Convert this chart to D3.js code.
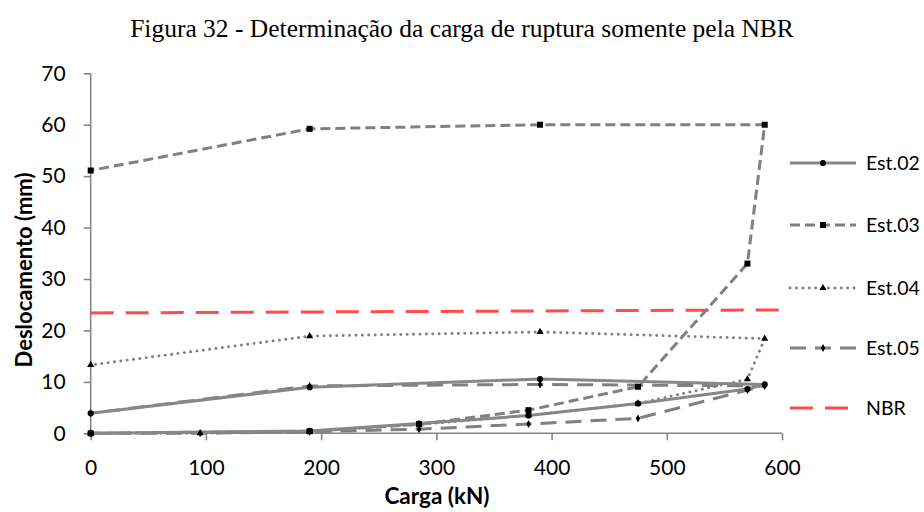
<!DOCTYPE html>
<html>
<head>
<meta charset="utf-8">
<script src="https://cdn.jsdelivr.net/npm/d3@7"></script>
<style>
  html, body { margin: 0; padding: 0; background: #fff; }
  svg { display: block; }
</style>
</head>
<body>
<svg id="chart" width="924" height="512"></svg>
<script>
// Load (kN) and displacement (mm) for each test, loading branch then unloading branch
const est02Load = [0, 190, 285, 380, 475, 570, 585, 390, 190, 0];
const est02Disp = [0, 0.45, 1.9, 3.45, 5.8, 8.6, 9.5, 10.55, 8.95, 3.9];

const est03Load = [0, 190, 285, 380, 475, 570, 585, 390, 190, 0];
const est03Disp = [0, 0.4, 1.75, 4.5, 9.05, 33.0, 60.0, 60.0, 59.2, 51.1];

const est04Load = [0, 95, 190, 285, 380, 475, 570, 585, 390, 190, 0];
const est04Disp = [0, 0, 0.4, 1.7, 3.5, 5.8, 10.5, 18.4, 19.7, 18.9, 13.3];

const est05Load = [0, 95, 190, 285, 380, 475, 570, 585, 390, 190, 0];
const est05Disp = [0, 0, 0.3, 0.8, 1.8, 2.9, 8.4, 9.2, 9.5, 9.2, 3.9];

const nbrLoad = [0, 600];
const nbrDisp = [23.4, 24.0];

const seriesNames = ["Est.02", "Est.03", "Est.04", "Est.05", "NBR"];
const xTicks = [0, 100, 200, 300, 400, 500, 600];
const yTicks = [0, 10, 20, 30, 40, 50, 60, 70];

const series = [
  { name: seriesNames[0], x: est02Load, y: est02Disp, color: "#878787", dash: null, width: 3, marker: "circle" },
  { name: seriesNames[1], x: est03Load, y: est03Disp, color: "#808080", dash: "10,5", width: 3, marker: "square" },
  { name: seriesNames[2], x: est04Load, y: est04Disp, color: "#808080", dash: "0.1,6.3", width: 2.9, cap: "round", marker: "triangle" },
  { name: seriesNames[3], x: est05Load, y: est05Disp, color: "#808080", dash: "16,9", width: 3, marker: "diamond" },
  { name: seriesNames[4], x: nbrLoad, y: nbrDisp, color: "#ff4b4b", dash: "23,12", width: 3, marker: null }
];

const svg = d3.select("#chart");
const plot = { left: 90.7, right: 782, top: 73.3, bottom: 433.3 };

const x = d3.scaleLinear().domain([0, 600]).range([plot.left, plot.right]);
const y = d3.scaleLinear().domain([0, 70]).range([plot.bottom, plot.top]);

// Title
svg.append("text")
  .attr("x", 462).attr("y", 37)
  .attr("text-anchor", "middle")
  .attr("font-family", "'Liberation Serif', 'Times New Roman', serif")
  .attr("font-size", 25.5)
  .attr("fill", "#000")
  .text("Figura 32 - Determinação da carga de ruptura somente pela NBR");

const axisColor = "#868686";
const tickFont = "Lato, 'Open Sans', sans-serif";

// Axes
const xAxis = svg.append("g")
  .attr("transform", `translate(0,${plot.bottom})`)
  .call(d3.axisBottom(x).tickValues(xTicks).tickSize(7).tickPadding(20).tickFormat(d3.format("d")));
const yAxis = svg.append("g")
  .attr("transform", `translate(${plot.left},0)`)
  .call(d3.axisLeft(y).tickValues(yTicks).tickSize(7).tickPadding(18).tickFormat(d3.format("d")));

[xAxis, yAxis].forEach(g => {
  g.select(".domain").attr("stroke", axisColor).attr("stroke-width", 1.6);
  g.selectAll(".tick line").attr("stroke", axisColor).attr("stroke-width", 1.6);
  g.selectAll(".tick text")
    .attr("font-family", tickFont)
    .attr("font-size", 21)
    .attr("fill", "#000");
});
// Plain axis lines without the outer end stubs
xAxis.select(".domain").attr("d", `M${plot.left},0H${plot.right}`);
yAxis.select(".domain").attr("d", `M0,${plot.top}V${plot.bottom}`);

// Axis titles
svg.append("text")
  .attr("x", 437).attr("y", 504)
  .attr("text-anchor", "middle")
  .attr("font-family", tickFont)
  .attr("font-weight", "bold")
  .attr("font-size", 22.5)
  .text("Carga (kN)");

svg.append("text")
  .attr("transform", "translate(32,270) rotate(-90)")
  .attr("text-anchor", "middle")
  .attr("font-family", tickFont)
  .attr("font-weight", "bold")
  .attr("font-size", 22)
  .text("Deslocamento (mm)");

// Marker shapes
const markerPaths = {
  circle: d3.symbol().type(d3.symbolCircle).size(30),
  square: d3.symbol().type(d3.symbolSquare).size(36),
  triangle: d3.symbol().type(d3.symbolTriangle).size(22),
  diamond: d3.symbol().type(d3.symbolDiamond).size(18)
};

const line = d3.line().x(d => x(d[0])).y(d => y(d[1]));

const drawOrder = [4, 3, 2, 1, 0];
drawOrder.forEach(i => {
  const s = series[i];
  const pts = s.x.map((v, k) => [v, s.y[k]]);
  svg.append("path")
    .datum(pts)
    .attr("d", line)
    .attr("fill", "none")
    .attr("stroke", s.color)
    .attr("stroke-width", s.width)
    .attr("stroke-dasharray", s.dash)
    .attr("stroke-linecap", s.cap || "butt")
    .attr("stroke-linejoin", "round");
});
drawOrder.forEach(i => {
  const s = series[i];
  if (!s.marker) return;
  const pts = s.x.map((v, k) => [v, s.y[k]]);
  svg.append("g").selectAll("path")
    .data(pts)
    .join("path")
    .attr("d", markerPaths[s.marker])
    .attr("transform", d => `translate(${x(d[0])},${y(d[1])})`)
    .attr("fill", "#000");
});

// Legend
const legendY = [163, 225, 288, 348, 408];
const legend = svg.append("g");
series.forEach((s, i) => {
  const g = legend.append("g").attr("transform", `translate(0,${legendY[i]})`);
  g.append("line")
    .attr("x1", 790).attr("x2", 856).attr("y1", 0).attr("y2", 0)
    .attr("stroke", s.color)
    .attr("stroke-width", s.width)
    .attr("stroke-dasharray", s.dash)
    .attr("stroke-linecap", s.cap || "butt");
  if (s.marker) {
    g.append("path")
      .attr("d", markerPaths[s.marker])
      .attr("transform", "translate(823,0)")
      .attr("fill", "#000");
  }
  g.append("text")
    .attr("x", 866).attr("y", 7)
    .attr("font-family", tickFont)
    .attr("font-size", 19.5)
    .attr("fill", "#000")
    .text(s.name);
});
</script>
</body>
</html>
